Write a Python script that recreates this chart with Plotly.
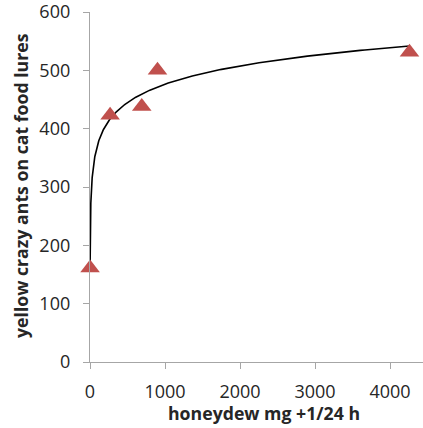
import numpy as np
import plotly.graph_objects as go

# data (honeydew mg + 1 per 24 h, ants on lures)
honeydew = [1, 268, 690, 900, 4260]
ants = [161, 423, 438, 500, 531]

x_ticks = [0, 1000, 2000, 3000, 4000]
y_ticks = [0, 100, 200, 300, 400, 500, 600]

# logarithmic trendline y = a + b ln(x), least squares on the data
b, a = np.polyfit(np.log(honeydew), ants, 1)
xf = np.geomspace(min(honeydew), max(honeydew), 500)
yf = a + b * np.log(xf)

FONT = "Open Sans"
AX = "#a6a6a6"
TXT = "#262626"

fig = go.Figure()
fig.add_trace(go.Scatter(x=xf, y=yf, mode="lines",
                         line=dict(color="black", width=1.6),
                         hoverinfo="skip", showlegend=False))
fig.add_trace(go.Scatter(x=honeydew, y=ants, mode="markers",
                         marker=dict(symbol="triangle-up", size=17, color="#c0504d",
                                     line=dict(width=0)),
                         showlegend=False, cliponaxis=False))

fig.update_layout(
    width=423, height=428,
    margin=dict(l=90, r=0, t=12, b=66),
    plot_bgcolor="white", paper_bgcolor="white",
    font=dict(family=FONT, size=18, color=TXT),
    xaxis=dict(range=[0, 4440], tickvals=x_ticks, ticktext=[str(v) for v in x_ticks],
               showgrid=False, zeroline=False, showline=True, linecolor=AX, linewidth=1.3,
               ticks="outside", ticklen=6, tickcolor=AX, tickwidth=1.3,
               ticklabelstandoff=7,
               automargin=False, ticklabeloverflow="allow",
               tickfont=dict(family=FONT, size=18, color=TXT)),
    yaxis=dict(range=[0, 600.01], tickvals=y_ticks, ticktext=[str(v) for v in y_ticks],
               showgrid=False, zeroline=False, showline=True, linecolor=AX, linewidth=1.3,
               ticks="outside", ticklen=6, tickcolor=AX, tickwidth=1.3,
               ticklabelstandoff=9, automargin=False, ticklabeloverflow="allow",
               tickfont=dict(family=FONT, size=18, color=TXT)),
    annotations=[
        dict(text="<b>honeydew mg +1/24 h</b>", xref="paper", yref="paper",
             x=(264 - 90) / 333, y=(362 - 413) / 350, xanchor="center", yanchor="middle",
             showarrow=False, font=dict(family=FONT, size=17.7, color=TXT)),
        dict(text="<b>yellow crazy ants on cat food lures</b>", xref="paper", yref="paper",
             x=(21 - 90) / 333, y=(362 - 186) / 350, xanchor="center", yanchor="middle",
             textangle=-90, showarrow=False,
             font=dict(family=FONT, size=17.7, color=TXT)),
    ],
)

fig.write_html("out.html", config={"displayModeBar": False},
               post_script="document.body.style.margin='0';")
